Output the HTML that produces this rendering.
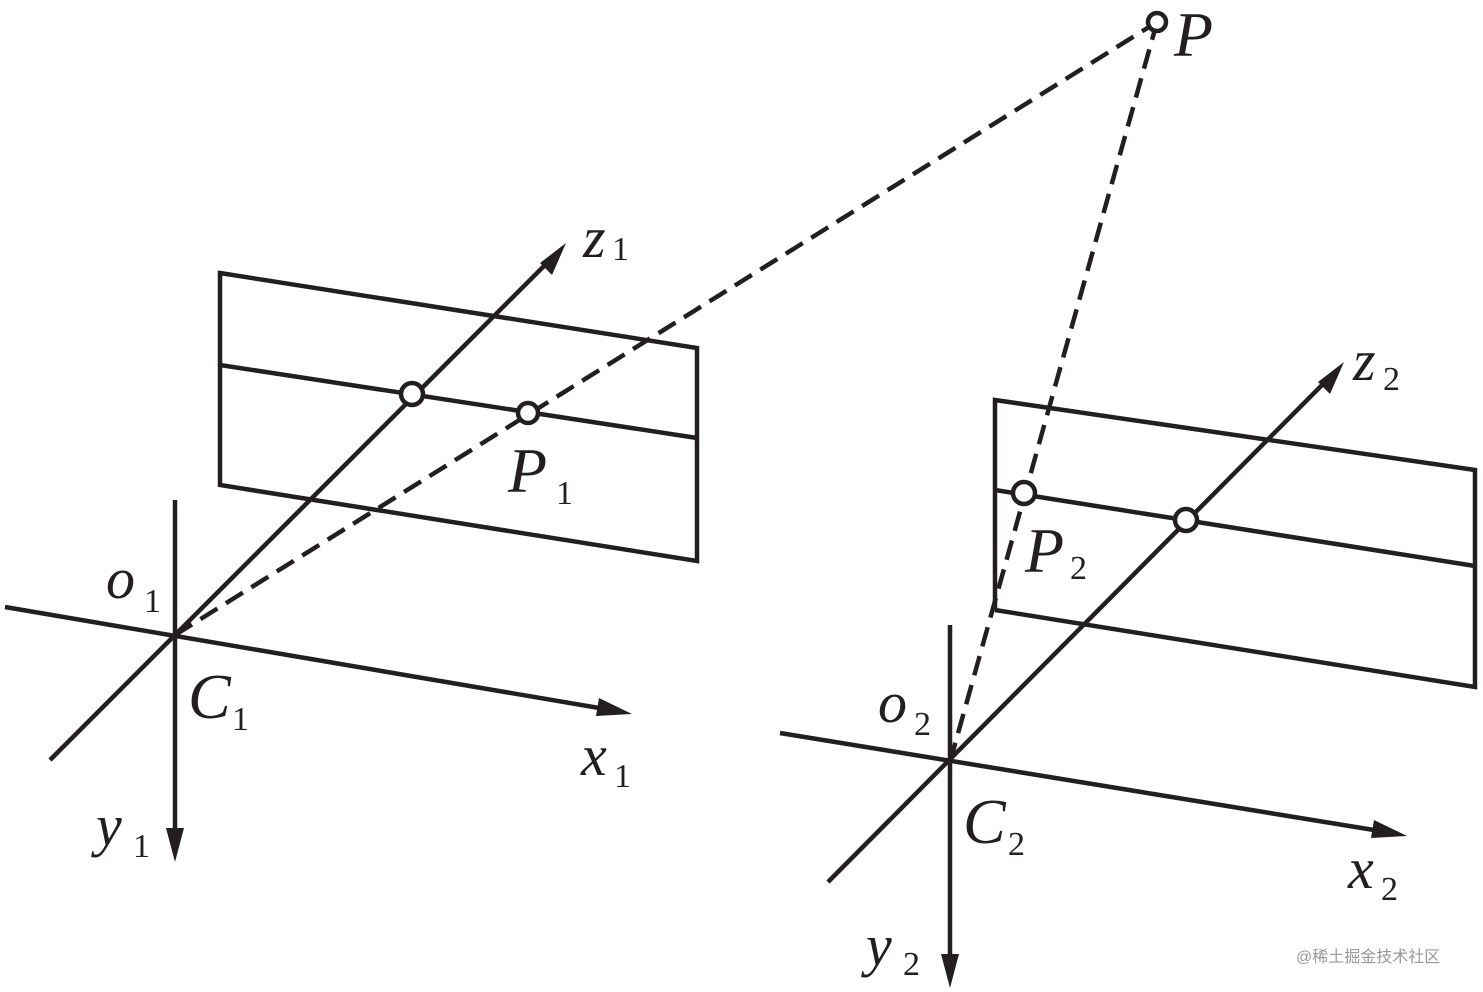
<!DOCTYPE html>
<html><head><meta charset="utf-8"><style>
html,body{margin:0;padding:0;background:#fff;}
svg{display:block}
text{font-family:"Liberation Serif",serif;fill:#231f20}
.it{font-style:italic}
</style></head><body>
<svg width="1483" height="992" viewBox="0 0 1483 992" xmlns="http://www.w3.org/2000/svg">
<g stroke="#231f20" stroke-width="4.5" fill="none">
<line x1="175" y1="500" x2="175" y2="835"/>
<line x1="5" y1="607" x2="605" y2="709"/>
<line x1="50" y1="760" x2="548" y2="262"/>
<polygon points="220,273 697,348 697,561 220,485" />
<line x1="220" y1="365" x2="697" y2="438"/>
<line x1="175" y1="635" x2="1157" y2="22" stroke-dasharray="20,10"/>
<line x1="950" y1="625" x2="950" y2="960"/>
<line x1="780" y1="733" x2="1380" y2="831"/>
<line x1="828" y1="882" x2="1326" y2="381"/>
<polyline points="995,610 995,400 1475,470 1475,687 995,610"/>
<line x1="995" y1="490" x2="1475" y2="566"/>
<line x1="950" y1="762" x2="1157" y2="22" stroke-dasharray="20,10"/>
</g>
<g fill="#231f20">
<polygon points="175,862 166,828 184,828"/>
<polygon points="632,714 596,716 599,698"/>
<polygon points="566,243 552,275 540,263"/>
<polygon points="950,988 941,954 959,954"/>
<polygon points="1407,836 1371,838 1374,820"/>
<polygon points="1344,362 1330,394 1318,382"/>
</g>
<g fill="#fff" stroke="#231f20" stroke-width="4.5">
<circle cx="412" cy="394" r="11"/>
<circle cx="528" cy="413" r="10"/>
<circle cx="1024" cy="493" r="11"/>
<circle cx="1186" cy="520" r="11"/>
<circle cx="1157" cy="22" r="9"/>
</g>
<text class="it" x="1174" y="56" font-size="64">P</text>
<text class="it" x="583" y="257" font-size="58">z</text><text x="612" y="260" font-size="34">1</text>
<text class="it" x="1353" y="380" font-size="58">z</text><text x="1383" y="390" font-size="34">2</text>
<text class="it" x="508" y="492" font-size="64">P</text><text x="556" y="504" font-size="34">1</text>
<text class="it" x="1025" y="572" font-size="64">P</text><text x="1070" y="579" font-size="34">2</text>
<text class="it" x="106" y="598" font-size="58">o</text><text x="144" y="612" font-size="34">1</text>
<text class="it" x="878" y="722" font-size="58">o</text><text x="914" y="735" font-size="34">2</text>
<text class="it" x="188" y="718" font-size="64">C</text><text x="232" y="730" font-size="34">1</text>
<text class="it" x="963" y="843" font-size="64">C</text><text x="1008" y="855" font-size="34">2</text>
<text class="it" x="581" y="775" font-size="58">x</text><text x="614" y="787" font-size="34">1</text>
<text class="it" x="1348" y="888" font-size="58">x</text><text x="1381" y="900" font-size="34">2</text>
<text class="it" x="96" y="845" font-size="58">y</text><text x="133" y="857" font-size="34">1</text>
<text class="it" x="866" y="965" font-size="58">y</text><text x="903" y="975" font-size="34">2</text>
<text x="1296" y="962" font-size="16" style="font-family:'Liberation Sans','Noto Sans CJK SC',sans-serif;fill:#999">@稀土掘金技术社区</text>
</svg>
</body></html>
